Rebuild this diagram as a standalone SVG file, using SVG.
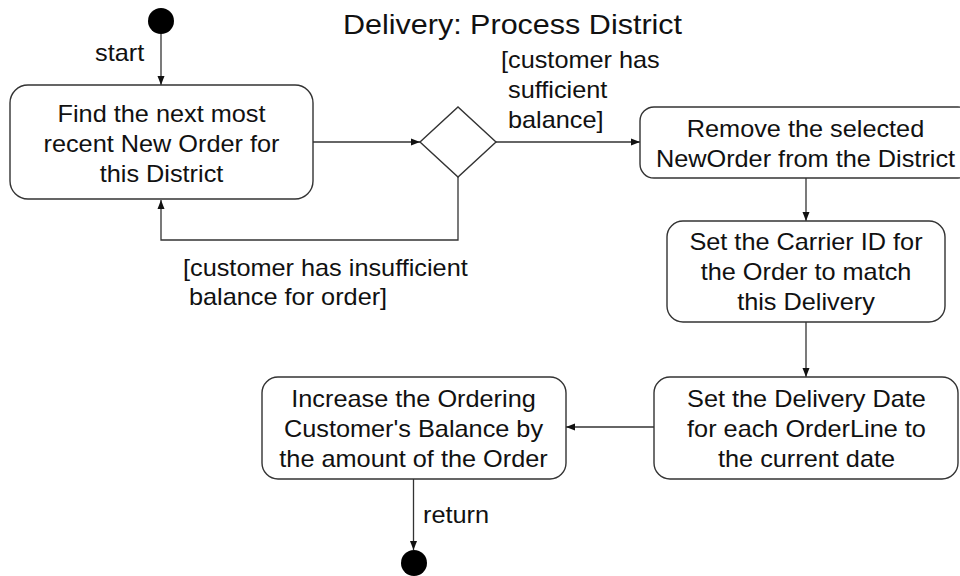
<svg xmlns="http://www.w3.org/2000/svg" width="960" height="576" viewBox="0 0 960 576">
<style>
  text { font-family: "Liberation Sans", Arial, sans-serif; fill: #111; }
  .n { font-size: 23px; text-anchor: middle; }
  .l { font-size: 23px; text-anchor: start; }
  .title { font-size: 27.5px; text-anchor: middle; }
  .box { fill: #fff; stroke: #333; stroke-width: 1.4; }
  .edge { fill: none; stroke: #333; stroke-width: 1.3; }
  .dot { fill: #000; }
</style>
<defs>
  <marker id="arr" markerUnits="userSpaceOnUse" markerWidth="10" markerHeight="8" refX="9" refY="4" orient="auto">
    <path d="M0,0.5 L9,4 L0,7.5 z" fill="#111"/>
  </marker>
</defs>
<rect width="960" height="576" fill="#fff"/>

<g id="title"><g transform="translate(512.5,0) scale(1.11,1)"><text class="title" x="0" y="34">Delivery: Process District</text></g></g>

<g id="connectors">
  <line class="edge" x1="161" y1="34" x2="161" y2="85" marker-end="url(#arr)"/>
  <line class="edge" x1="313" y1="142" x2="420" y2="142" marker-end="url(#arr)"/>
  <line class="edge" x1="496" y1="142" x2="640" y2="142" marker-end="url(#arr)"/>
  <polyline class="edge" points="458,177 458,240 161,240 161,200" marker-end="url(#arr)"/>
  <line class="edge" x1="806" y1="178" x2="806" y2="221" marker-end="url(#arr)"/>
  <line class="edge" x1="806" y1="322" x2="806" y2="377" marker-end="url(#arr)"/>
  <line class="edge" x1="654" y1="427" x2="566" y2="427" marker-end="url(#arr)"/>
  <line class="edge" x1="413.5" y1="479" x2="413.5" y2="550" marker-end="url(#arr)"/>
  <g transform="translate(95,0) scale(1.1,1)"><text class="l" x="0" y="61">start</text></g>
  <g transform="translate(501,0) scale(1.1,1)"><text class="l" x="0" y="68">[customer has</text></g>
  <g transform="translate(508,0) scale(1.1,1)"><text class="l" x="0" y="98">sufficient</text></g>
  <g transform="translate(508,0) scale(1.1,1)"><text class="l" x="0" y="128">balance]</text></g>
  <g transform="translate(183,0) scale(1.1,1)"><text class="l" x="0" y="276">[customer has insufficient</text></g>
  <g transform="translate(189,0) scale(1.1,1)"><text class="l" x="0" y="305">balance for order]</text></g>
  <g transform="translate(423,0) scale(1.1,1)"><text class="l" x="0" y="523">return</text></g>
</g>

<g id="start"><circle class="dot" cx="161" cy="21" r="13"/></g>

<g id="find">
  <rect class="box" x="10" y="85" width="303" height="114" rx="18"/>
  <g transform="translate(161.5,0) scale(1.1,1)">
    <text class="n" x="0" y="122">Find the next most</text>
    <text class="n" x="0" y="152">recent New Order for</text>
    <text class="n" x="0" y="182">this District</text>
  </g>
</g>

<g id="decision"><polygon class="box" points="420,142 458,107 496,142 458,177"/></g>

<g id="remove">
  <rect class="box" x="640" y="107" width="332" height="71" rx="14"/>
  <g transform="translate(805.5,0) scale(1.1,1)">
    <text class="n" x="0" y="137">Remove the selected</text>
    <text class="n" x="0" y="167">NewOrder from the District</text>
  </g>
</g>

<g id="carrier">
  <rect class="box" x="667" y="221" width="278" height="101" rx="16"/>
  <g transform="translate(806,0) scale(1.1,1)">
    <text class="n" x="0" y="250">Set the Carrier ID for</text>
    <text class="n" x="0" y="280">the Order to match</text>
    <text class="n" x="0" y="310">this Delivery</text>
  </g>
</g>

<g id="deliverydate">
  <rect class="box" x="654" y="377" width="304" height="102" rx="16"/>
  <g transform="translate(806.5,0) scale(1.1,1)">
    <text class="n" x="0" y="407">Set the Delivery Date</text>
    <text class="n" x="0" y="437">for each OrderLine to</text>
    <text class="n" x="0" y="467">the current date</text>
  </g>
</g>

<g id="increase">
  <rect class="box" x="262" y="377" width="304" height="102" rx="16"/>
  <g transform="translate(413.5,0) scale(1.1,1)">
    <text class="n" x="0" y="407">Increase the Ordering</text>
    <text class="n" x="0" y="437">Customer's Balance by</text>
    <text class="n" x="0" y="467">the amount of the Order</text>
  </g>
</g>

<g id="end"><circle class="dot" cx="414" cy="563" r="13"/></g>
</svg>
